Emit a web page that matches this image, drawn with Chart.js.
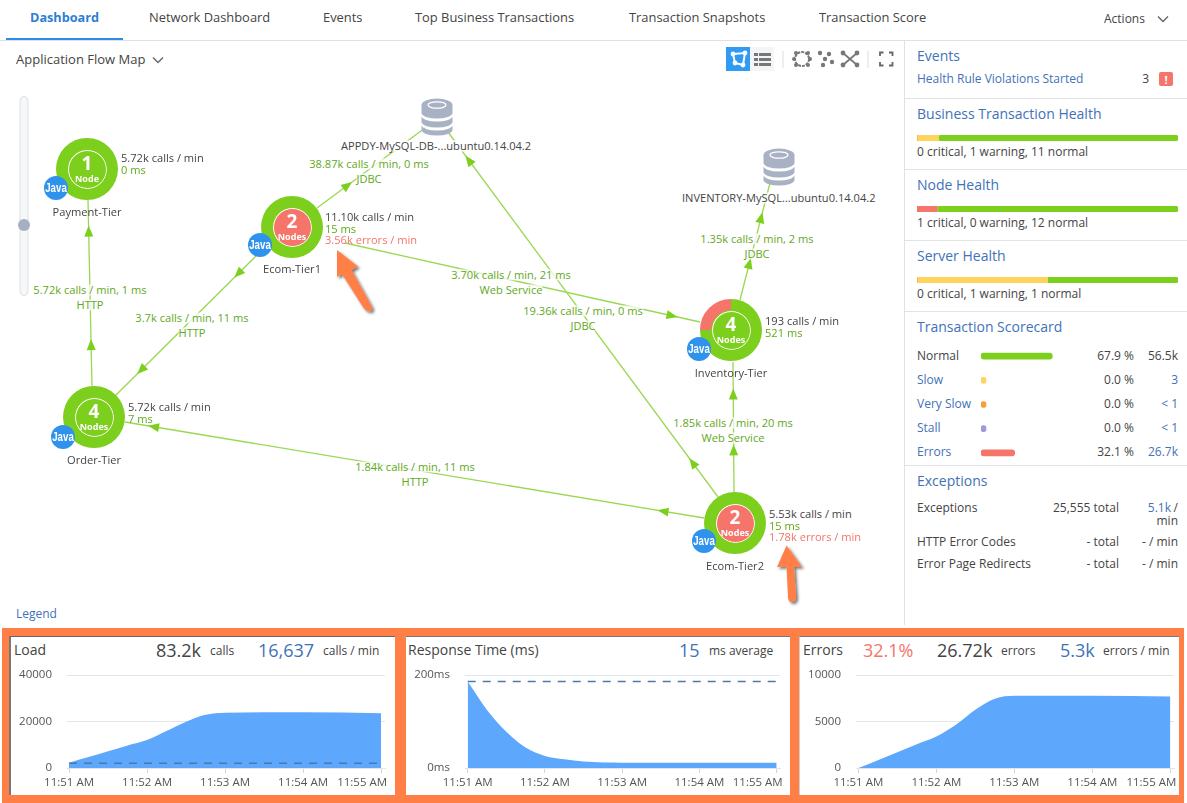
<!DOCTYPE html>
<html>
<head>
<meta charset="utf-8">
<title>Application Dashboard</title>
<script src="https://cdn.jsdelivr.net/npm/chart.js@4"></script>
<style>
html, body { margin: 0; padding: 0; background: #fff; }
body { width: 1187px; height: 803px; position: relative; overflow: hidden; font-family: "Open Sans", sans-serif; color: #444; }
.t { position: absolute; white-space: nowrap; line-height: 1; }
canvas { position: absolute; }
svg { position: absolute; left: 0; top: 0; }
.box { position: absolute; box-sizing: border-box; }
</style>
</head>
<body>
<svg id="map" width="1187" height="803"></svg>
<script>
// ---- chart data ----
const timeLabels = ['11:51 AM', '11:52 AM', '11:53 AM', '11:54 AM', '11:55 AM'];
const tickMinutes = [0, 1, 2, 3, 4];

const loadMinutes = [0, 0.25, 0.5, 0.75, 1, 1.25, 1.5, 1.75, 2, 3, 4];
const loadCalls = [2300, 4700, 7200, 9700, 12000, 15900, 19900, 22900, 23800, 24000, 23600];
const loadBaseline = [2000, 2000, 2000, 2000, 2000, 2000, 2000, 2000, 2000, 2000, 2000];
const loadTicks = [0, 20000, 40000];

const responseMinutes = [0, 0.25, 0.5, 0.75, 1, 1.25, 1.5, 2, 3, 4];
const responseMs = [186, 125, 78, 44, 26, 19, 14, 11.5, 11.5, 11.5];
const responseBaseline = [186, 186, 186, 186, 186, 186, 186, 186, 186, 186];
const responseTicks = [0, 200];

const errorMinutes = [0, 0.25, 0.5, 0.75, 1, 1.25, 1.5, 1.75, 2, 3, 4];
const errorCounts = [0, 840, 1700, 2550, 3380, 4640, 6260, 7450, 7770, 7770, 7700];
const errorTicks = [0, 5000, 10000];

const healthCritical = [0, 1, 0];
const healthWarning = [1, 0, 1];
const healthNormal = [11, 12, 1];

const scoreNames = ['Normal', 'Slow', 'Very Slow', 'Stall', 'Errors'];
const scorePercent = [67.9, 0, 0, 0, 32.1];
const scorePercentText = ['67.9 %', '0.0 %', '0.0 %', '0.0 %', '32.1 %'];
const scoreCounts = ['56.5k', '3', '< 1', '< 1', '26.7k'];

const nodeNames = ['Payment-Tier', 'Ecom-Tier1', 'Order-Tier', 'Inventory-Tier', 'Ecom-Tier2'];
const nodeCounts = ['1', '2', '4', '4', '2'];
const nodeUnits = ['Node', 'Nodes', 'Nodes', 'Nodes', 'Nodes'];
const nodeCalls = ['5.72k calls / min', '11.10k calls / min', '5.72k calls / min', '193 calls / min', '5.53k calls / min'];
const nodeTimes = ['0 ms', '15 ms', '7 ms', '521 ms', '15 ms'];
const nodeErrors = ['', '3.56k errors / min', '', '', '1.78k errors / min'];
const nodeNormalShare = [100, 100, 100, 75, 100];
const nodeErrorShare = [0, 0, 0, 25, 0];

// ---- page layout ----
const GREEN = '#7ccf1c', TEXTGREEN = '#62a81c', CORAL = '#f5756b', LINK = '#3f72b8', AREA = 'rgba(84,162,252,0.95)', DASH = '#4d78ad', ORANGE = '#ff7f47';
const nodeX = [87, 292, 94, 731, 735];
const nodeY = [169, 227, 417, 330, 523];
const nodeInnerRed = [false, true, false, false, true];
const javaX = [56, 260, 63, 699, 704];
const javaY = [188, 245, 437, 349, 541];
const nameY = [211.5, 268.5, 459.5, 372.5, 565.5];
const infoX = [121, 325, 128, 765, 769];
const infoY = [158, 217, 407, 321, 514];

const edgeLines = [
  [92, 386, 88, 200, [0.22, 0.83]],
  [262, 250, 115, 396, [0.16, 0.82]],
  [317, 208, 425, 128, [0.28]],
  [345, 243, 700, 322, [0.92]],
  [718, 497, 448, 132, [0.093, 0.922]],
  [734, 492, 733, 362, [0.32, 0.75]],
  [740, 300, 770, 183, [0.31, 0.7]],
  [704, 518, 125, 422, [0.07, 0.95]]
];
const edgeText = [
  [90, 289.5, '5.72k calls / min, 1 ms', 'HTTP'],
  [192, 317.5, '3.7k calls / min, 11 ms', 'HTTP'],
  [369, 163.5, '38.87k calls / min, 0 ms', 'JDBC'],
  [511, 274.5, '3.70k calls / min, 21 ms', 'Web Service'],
  [583, 310.5, '19.36k calls / min, 0 ms', 'JDBC'],
  [733, 422.5, '1.85k calls / min, 20 ms', 'Web Service'],
  [757, 238.5, '1.35k calls / min, 2 ms', 'JDBC'],
  [415, 466.5, '1.84k calls / min, 11 ms', 'HTTP']
];

function text(x, y, str, o) {
  o = o || {};
  const d = document.createElement('div');
  d.className = 't';
  d.textContent = str;
  d.style.left = x + 'px';
  d.style.top = y + 'px';
  d.style.fontSize = (o.size || 12) + 'px';
  d.style.color = o.color || '#444';
  if (o.weight) d.style.fontWeight = o.weight;
  if (o.family) d.style.fontFamily = o.family;
  if (o.z) d.style.zIndex = o.z;
  if (o.bg) d.style.background = o.bg;
  const tx = o.align === 'center' ? '-50%' : o.align === 'right' ? '-100%' : '0';
  d.style.transform = 'translate(' + tx + ',-50%)' + (o.squeeze ? ' scale(' + o.squeeze + ')' : '');
  document.body.appendChild(d);
  return d;
}

function box(x, y, w, h, style) {
  const d = document.createElement('div');
  d.className = 'box';
  d.style.left = x + 'px';
  d.style.top = y + 'px';
  d.style.width = w + 'px';
  d.style.height = h + 'px';
  Object.assign(d.style, style || {});
  document.body.appendChild(d);
  return d;
}

function canvasAt(x, y, w, h, z) {
  const c = document.createElement('canvas');
  c.width = w;
  c.height = h;
  c.style.left = x + 'px';
  c.style.top = y + 'px';
  c.style.width = w + 'px';
  c.style.height = h + 'px';
  if (z) c.style.zIndex = z;
  document.body.appendChild(c);
  return c;
}

// ---- top tabs ----
const tabNames = ['Network Dashboard', 'Events', 'Top Business Transactions', 'Transaction Snapshots', 'Transaction Score'];
const tabX = [149, 323, 415, 629, 819];
text(30, 17, 'Dashboard', { size: 12.7, color: '#2d7fd3', weight: 700 });
tabNames.forEach((n, i) => text(tabX[i], 17, n, { size: 12.9 }));
text(1104, 19, 'Actions', { size: 12 });
box(0, 40, 1187, 1, { background: '#dfe1e4' });
box(6, 38, 117, 2, { background: '#2d8ae6' });
box(904, 40, 1, 585, { background: '#dfe1e4' });

// ---- flow map drawing ----
const svg = document.getElementById('map');
let svgHtml = '';
function chevron(x, y) {
  return `<path d="M${x - 5} ${y - 2.5}L${x} ${y + 2.5}L${x + 5} ${y - 2.5}" fill="none" stroke="#666" stroke-width="1.4"/>`;
}
svgHtml += chevron(1163, 19) + chevron(158, 60);

edgeLines.forEach(e => {
  const [x1, y1, x2, y2, arrows] = e;
  svgHtml += `<line x1="${x1}" y1="${y1}" x2="${x2}" y2="${y2}" stroke="#9bd752" stroke-width="1.3"/>`;
  const a = Math.atan2(y2 - y1, x2 - x1) * 180 / Math.PI;
  arrows.forEach(f => {
    const px = x1 + (x2 - x1) * f, py = y1 + (y2 - y1) * f;
    svgHtml += `<polygon points="6,0 -5,-4.5 -5,4.5" fill="#7ccf1c" transform="translate(${px} ${py}) rotate(${a})"/>`;
  });
});

// databases
[[437, 117], [779, 167]].forEach(p => {
  const [x, y] = p;
  svgHtml += `<g transform="translate(${x} ${y})" fill="#a9b2c4">
    <path d="M-15.5 -12 v8 a15.5 5.5 0 0 0 31 0 v-8z"/>
    <path d="M-15.5 -1 v6 a15.5 5.5 0 0 0 31 0 v-6 a15.5 5.5 0 0 1 -31 0z"/>
    <path d="M-15.5 8 v5 a15.5 5.5 0 0 0 31 0 v-5 a15.5 5.5 0 0 1 -31 0z"/>
    <ellipse cx="0" cy="-12" rx="15.5" ry="6.5"/>
    <ellipse cx="0" cy="-12" rx="9" ry="3.2" fill="none" stroke="#fff" stroke-width="1.3"/>
  </g>`;
});

// slider
svgHtml += `<rect x="20" y="96.5" width="8" height="199" rx="4" fill="#f6f7f8" stroke="#dcdfe3"/>
  <circle cx="24" cy="225" r="6" fill="#a7b0c2"/>`;

// toolbar icons
svgHtml += `<rect x="726" y="47" width="24" height="24" fill="#2f9bf4"/>
  <path d="M733 54L745 53L743 65L735 63Z" fill="none" stroke="#fff" stroke-width="2"/>
  <g fill="#fff"><circle cx="733" cy="54" r="2.4"/><circle cx="745" cy="53" r="2.4"/><circle cx="743" cy="65" r="2.4"/><circle cx="735" cy="63" r="2.4"/></g>
  <rect x="750" y="47" width="24" height="24" fill="#f4f5f6"/>
  <g fill="#777"><rect x="754" y="53" width="4" height="3"/><rect x="759" y="53" width="12" height="3"/><rect x="754" y="58" width="4" height="3"/><rect x="759" y="58" width="12" height="3"/><rect x="754" y="63" width="4" height="3"/><rect x="759" y="63" width="12" height="3"/></g>
  <line x1="783" y1="51" x2="783" y2="68" stroke="#ddd"/><line x1="868" y1="51" x2="868" y2="68" stroke="#ddd"/>
  <circle cx="802" cy="59" r="7" fill="none" stroke="#777" stroke-width="2" stroke-dasharray="3 1"/>
  <g fill="#777">
    <circle cx="796" cy="53" r="2"/><circle cx="808" cy="53" r="2"/><circle cx="796" cy="65" r="2"/><circle cx="808" cy="65" r="2"/><circle cx="794" cy="59" r="2"/><circle cx="810" cy="59" r="2"/>
    <circle cx="820" cy="53" r="2.2"/><circle cx="829" cy="54" r="2.2"/><circle cx="825" cy="59" r="2.2"/><circle cx="832" cy="62" r="2.2"/><circle cx="823" cy="65" r="2.2"/>
    <circle cx="843" cy="53" r="2.4"/><circle cx="857" cy="53" r="2.4"/><circle cx="843" cy="65" r="2.4"/><circle cx="857" cy="65" r="2.4"/>
  </g>
  <path d="M843 53L857 65M857 53L843 65" stroke="#777" stroke-width="1.8"/>
  <path d="M880 56v-3.5h3.5M889 52.5h3.5v3.5M892.5 62v3.5h-3.5M883.5 65.5H880V62" fill="none" stroke="#666" stroke-width="1.8"/>`;

// callout arrows
svgHtml += `<defs><filter id="sh" x="-30%" y="-30%" width="160%" height="160%"><feDropShadow dx="2" dy="2" stdDeviation="1.5" flood-color="#000" flood-opacity="0.55"/></filter></defs>
  <path d="M337 250L358 266.5L351.5 270L372 307Q373 312 368 311Q365 310.5 363 307L342 274L337 277Z" fill="${ORANGE}" filter="url(#sh)"/>
  <path d="M786.5 545.5L802 567L794 566.5L796 597Q796 602 792 602Q788 602 788 597L786.5 566.5L777 567Z" fill="${ORANGE}" filter="url(#sh)"/>`;
svg.innerHTML = svgHtml;

edgeText.forEach(e => {
  text(e[0], e[1], e[2], { size: 11.1, color: TEXTGREEN, align: 'center', bg: 'rgba(255,255,255,0.75)', z: 2 });
  text(e[0], e[1] + 15, e[3], { size: 11.1, color: TEXTGREEN, align: 'center', bg: 'rgba(255,255,255,0.75)', z: 2 });
});

text(16, 59, 'Application Flow Map', { size: 13 });
text(16, 614, 'Legend', { size: 12, color: LINK });
text(341, 145.5, 'APPDY-MySQL-DB-...ubuntu0.14.04.2', { size: 11.1, bg: '#fff', z: 2 });
text(682, 197.5, 'INVENTORY-MySQL...ubuntu0.14.04.2', { size: 11.1, bg: 'rgba(255,255,255,0.75)', z: 2 });

// ---- nodes: ring is a doughnut, everything else sits on top of it ----
const R = 31;
nodeNames.forEach((name, i) => {
  const cx = nodeX[i], cy = nodeY[i];
  const c = canvasAt(cx - R, cy - R, R * 2, R * 2, 3);
  new Chart(c, {
    type: 'doughnut',
    data: { labels: ['normal', 'errors'], datasets: [{ data: [nodeNormalShare[i], nodeErrorShare[i]], backgroundColor: [GREEN, CORAL], borderWidth: 0 }] },
    options: { responsive: false, animation: false, cutout: '62%', plugins: { legend: { display: false }, tooltip: { enabled: false } } }
  });
  box(cx - 19.5, cy - 19.5, 39, 39, { borderRadius: '50%', border: '1.3px solid #fff', outline: '1px solid ' + GREEN, background: nodeInnerRed[i] ? CORAL : GREEN, zIndex: 4 });
  text(cx, cy - 6, nodeCounts[i], { size: 19, color: '#fff', weight: 700, align: 'center', z: 5 });
  text(cx, cy + 9, nodeUnits[i], { size: 9, color: '#fff', weight: 700, align: 'center', z: 5 });
  box(javaX[i] - 12, javaY[i] - 12, 24, 24, { borderRadius: '50%', background: '#2f92ec', zIndex: 6 });
  text(javaX[i], javaY[i], 'Java', { size: 11, color: '#fff', weight: 700, family: '"Liberation Sans Narrow", sans-serif', align: 'center', z: 7, squeeze: '0.88,1.15' });
  text(cx, nameY[i], name, { size: 11.1, align: 'center', z: 5 });
  text(infoX[i], infoY[i], nodeCalls[i], { size: 11.1, z: 5 });
  text(infoX[i], infoY[i] + 11.5, nodeTimes[i], { size: 11.1, color: TEXTGREEN, z: 5 });
  if (nodeErrors[i]) text(infoX[i], infoY[i] + 23, nodeErrors[i], { size: 11.1, color: CORAL, z: 5 });
});

// ---- right side panel ----
[98, 169, 240, 311, 465].forEach(y => box(905, y, 282, 1, { background: '#e2e3e6' }));
text(917, 56, 'Events', { size: 14, color: LINK });
text(917, 79, 'Health Rule Violations Started', { size: 12, color: LINK });
text(1149, 79, '3', { size: 12, align: 'right' });
box(1159, 72, 14, 14, { background: CORAL, borderRadius: '2px' });
text(1166, 79, '!', { size: 11, color: '#fff', weight: 700, align: 'center' });

const healthTitles = ['Business Transaction Health', 'Node Health', 'Server Health'];
const healthTitleY = [114, 185, 256];
const healthBarY = [135, 206, 277];
const healthNoteY = [152, 223, 294];
healthTitles.forEach((title, i) => {
  text(917, healthTitleY[i], title, { size: 14, color: LINK });
  const c = canvasAt(917, healthBarY[i], 261, 6);
  new Chart(c, {
    type: 'bar',
    data: {
      labels: [title],
      datasets: [
        { data: [healthCritical[i]], backgroundColor: CORAL },
        { data: [healthWarning[i]], backgroundColor: '#ffd45c' },
        { data: [healthNormal[i]], backgroundColor: GREEN }
      ]
    },
    options: {
      indexAxis: 'y', responsive: false, animation: false,
      datasets: { bar: { barPercentage: 1, categoryPercentage: 1, borderRadius: 3, borderSkipped: false } },
      plugins: { legend: { display: false }, tooltip: { enabled: false } },
      scales: {
        x: { display: false, stacked: true, min: 0, max: healthCritical[i] + healthWarning[i] + healthNormal[i] },
        y: { display: false, stacked: true }
      }
    }
  });
  text(917, healthNoteY[i], `${healthCritical[i]} critical, ${healthWarning[i]} warning, ${healthNormal[i]} normal`, { size: 12 });
});

text(917, 327, 'Transaction Scorecard', { size: 14, color: LINK });
const scoreRowY = [356, 380, 404, 428, 452];
scoreNames.forEach((n, i) => {
  text(917, scoreRowY[i], n, { size: 12, color: i === 0 ? '#444' : LINK });
  text(1134, scoreRowY[i], scorePercentText[i], { size: 12, align: 'right' });
  text(1178, scoreRowY[i], scoreCounts[i], { size: 12, color: i === 0 ? '#444' : LINK, align: 'right' });
});
new Chart(canvasAt(981, 344, 105, 121), {
  type: 'bar',
  data: {
    labels: scoreNames,
    datasets: [{ data: scorePercent, backgroundColor: [GREEN, '#ffd45c', '#f5a03c', '#9c9ad8', CORAL], barThickness: 6, minBarLength: 5, borderRadius: 3, borderSkipped: false }]
  },
  options: {
    indexAxis: 'y', responsive: false, animation: false,
    plugins: { legend: { display: false }, tooltip: { enabled: false } },
    scales: { x: { display: false, min: 0, max: 100 }, y: { display: false } }
  }
});

text(917, 481, 'Exceptions', { size: 14, color: LINK });
text(917, 508, 'Exceptions', { size: 12 });
text(1119, 508, '25,555 total', { size: 12, align: 'right' });
text(1171, 508, '5.1k', { size: 12, color: LINK, align: 'right' });
text(1178, 508, '/', { size: 12, align: 'right' });
text(1178, 521, 'min', { size: 12, align: 'right' });
text(917, 542, 'HTTP Error Codes', { size: 12 });
text(1119, 542, '- total', { size: 12, align: 'right' });
text(1178, 542, '- / min', { size: 12, align: 'right' });
text(917, 564, 'Error Page Redirects', { size: 12 });
text(1119, 564, '- total', { size: 12, align: 'right' });
text(1178, 564, '- / min', { size: 12, align: 'right' });

// ---- bottom panels with orange frames ----
box(2, 628, 1182, 175, { background: ORANGE });
box(9, 636, 386, 159, { background: '#fff', borderTop: '1px solid #666', borderLeft: '2px solid #777' });
box(406, 636, 384, 159, { background: '#fff', borderTop: '1px solid #777' });
box(799, 636, 380, 159, { background: '#fff', borderTop: '1px solid #777', borderLeft: '1px solid #ccc' });

text(14, 650, 'Load', { size: 14, z: 3 });
text(156, 650, '83.2k', { size: 18, z: 3 });
text(210, 651, 'calls', { size: 12, z: 3 });
text(258, 650, '16,637', { size: 18, color: LINK, z: 3 });
text(323, 651, 'calls / min', { size: 12, z: 3 });
text(408, 650, 'Response Time (ms)', { size: 14, z: 3 });
text(679, 650, '15', { size: 18, color: LINK, z: 3 });
text(709, 651, 'ms average', { size: 12, z: 3 });
text(803, 650, 'Errors', { size: 14, z: 3 });
text(863, 650, '32.1%', { size: 18, color: CORAL, z: 3 });
text(937, 650, '26.72k', { size: 18, z: 3 });
text(1001, 651, 'errors', { size: 12, z: 3 });
text(1060, 650, '5.3k', { size: 18, color: LINK, z: 3 });
text(1103, 651, 'errors / min', { size: 12, z: 3 });

// last time label is pulled back inside the panel, so it's drawn apart from the rest
const lastTickLabel = {
  id: 'lastTickLabel',
  afterDraw(chart) {
    const ctx = chart.ctx, x = chart.scales.x;
    ctx.save();
    ctx.font = '11.5px "Open Sans"';
    ctx.fillStyle = '#555';
    ctx.textAlign = 'right';
    ctx.textBaseline = 'middle';
    ctx.fillText(timeLabels[4], x.getPixelForValue(4) + 6, x.top + 15);
    ctx.restore();
  }
};

function areaChart(opts) {
  const series = opts.minutes.map((m, i) => ({ x: m, y: opts.values[i] }));
  const datasets = [{
    data: series, fill: 'origin', backgroundColor: AREA, borderWidth: 0, pointRadius: 0, cubicInterpolationMode: 'monotone', order: 2
  }];
  if (opts.baseline) {
    datasets.push({
      data: opts.minutes.map((m, i) => ({ x: m, y: opts.baseline[i] })),
      borderColor: DASH, borderWidth: 1.5, borderDash: [8, 7], pointRadius: 0, fill: false, order: 1
    });
  }
  new Chart(canvasAt(opts.left, 665, opts.width, 130, 3), {
    type: 'line',
    data: { datasets },
    plugins: [lastTickLabel],
    options: {
      responsive: false, animation: false,
      layout: { padding: { top: 10, right: opts.padRight, left: 0, bottom: 0 } },
      plugins: { legend: { display: false }, tooltip: { enabled: false } },
      scales: {
        x: {
          type: 'linear', min: opts.xMin, max: opts.xMax,
          afterBuildTicks: axis => { axis.ticks = tickMinutes.map(value => ({ value })); },
          afterFit: axis => { axis.height = 27; axis.paddingLeft = 0; axis.paddingRight = 0; },
          border: { color: '#dfe5ea' },
          grid: { drawOnChartArea: false, color: '#cfd6dc', tickLength: 5 },
          ticks: {
            autoSkip: false, maxRotation: 0, padding: 3, color: '#555', font: { family: '"Open Sans"', size: 11.5 },
            callback: v => (v === 4 ? '' : timeLabels[tickMinutes.indexOf(v)])
          }
        },
        y: {
          min: opts.ticks[0], max: opts.ticks[opts.ticks.length - 1],
          afterBuildTicks: axis => { axis.ticks = opts.ticks.map(value => ({ value })); },
          afterFit: axis => { axis.width = opts.yWidth; axis.paddingTop = 0; axis.paddingBottom = 0; },
          border: { display: false },
          grid: { drawTicks: false, color: '#e2e6ea' },
          ticks: { padding: 15, color: '#555', font: { family: '"Open Sans"', size: 11.5 }, callback: opts.yLabel || (v => v) }
        }
      }
    }
  });
}

areaChart({ left: 10, width: 382, yWidth: 57, padRight: 7, xMin: -0.026, xMax: 4.05, minutes: loadMinutes, values: loadCalls, baseline: loadBaseline, ticks: loadTicks });
areaChart({ left: 408, width: 380, yWidth: 57, padRight: 8, xMin: -0.035, xMax: 4.043, minutes: responseMinutes, values: responseMs, baseline: responseBaseline, ticks: responseTicks, yLabel: v => v + 'ms' });
areaChart({ left: 800, width: 380, yWidth: 56, padRight: 6, xMin: -0.03, xMax: 4.047, minutes: errorMinutes, values: errorCounts, ticks: errorTicks });
</script>
</body>
</html>
